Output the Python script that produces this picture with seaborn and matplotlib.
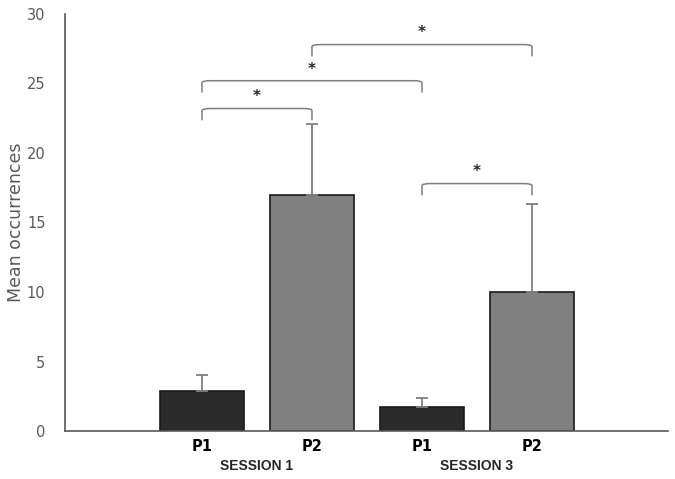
import numpy as np
import pandas as pd
import matplotlib
matplotlib.use("Agg")
import matplotlib.pyplot as plt
import seaborn as sns
from matplotlib.path import Path
from matplotlib.patches import PathPatch

# values
conditions = ["S1 P1", "S1 P2", "S3 P1", "S3 P2"]
phases = ["P1", "P2", "P1", "P2"]
sessions = ["SESSION 1", "SESSION 3"]
means = [2.9, 17.0, 1.7, 10.0]
errors = [1.1, 5.1, 0.7, 6.3]

# significance brackets: (bar i, bar j, height)
brackets = [(0, 1, 23.2), (0, 2, 25.2), (1, 3, 27.8), (2, 3, 17.8)]

df = pd.DataFrame({"cond": conditions, "phase": phases, "mean": means})

sns.set_style("white")
fig = plt.figure(figsize=(6.75, 4.79), dpi=100)
ax = fig.add_axes([0.0963, 0.1002, 0.8933, 0.8706])

sns.barplot(data=df, x="cond", y="mean", hue="phase", order=conditions,
            palette={"P1": "#2b2b2b", "P2": "#808080"}, dodge=False,
            width=0.77, edgecolor="#1a1a1a", linewidth=1.2, legend=False, ax=ax)

x = np.arange(len(conditions))
ax.errorbar(x, means, yerr=[np.zeros(len(errors)), errors], fmt="none",
            ecolor="#808080", elinewidth=1.3, capsize=4.5, capthick=1.3, zorder=1)

def bracket(x0, x1, y, drop=0.85, r=0.08):
    verts = [(x0, y - drop), (x0, y - 0.15), (x0, y), (x0 + r, y),
             (x1 - r, y), (x1, y), (x1, y - 0.15), (x1, y - drop)]
    codes = [Path.MOVETO, Path.LINETO, Path.CURVE3, Path.CURVE3,
             Path.LINETO, Path.CURVE3, Path.CURVE3, Path.LINETO]
    ax.add_patch(PathPatch(Path(verts, codes), fill=False, edgecolor="#7f7f7f", lw=1.1))
    ax.text((x0 + x1) / 2, y + 0.3, "*", ha="center", va="bottom",
            fontsize=11, fontweight="bold", color="#262626")

for i, j, h in brackets:
    bracket(x[i], x[j], h)

ax.set_ylim(0, 30)
ax.set_yticks(range(0, 31, 5))
ax.set_xlim(-1.245, 4.236)
ax.set_xlabel("")
ax.set_ylabel("Mean occurrences", fontsize=12.5, color="#595959", labelpad=1.5)
ax.tick_params(axis="y", length=0, labelsize=10.5, labelcolor="#595959", pad=14)
ax.tick_params(axis="x", length=0, pad=6)
ax.set_xticks(x)
ax.set_xticklabels(phases, fontsize=10.5, fontweight="bold", color="black")

for side in ["top", "right"]:
    ax.spines[side].set_visible(False)
for side in ["left", "bottom"]:
    ax.spines[side].set_color("#595959")
    ax.spines[side].set_linewidth(1.2)

for k, s in enumerate(sessions):
    ax.text(x[2 * k] + 0.5, -2.5, s, ha="center", va="center", fontsize=10,
            fontweight="bold", family="Liberation Sans", transform=ax.transData)

fig.savefig("out.png", dpi=100)
